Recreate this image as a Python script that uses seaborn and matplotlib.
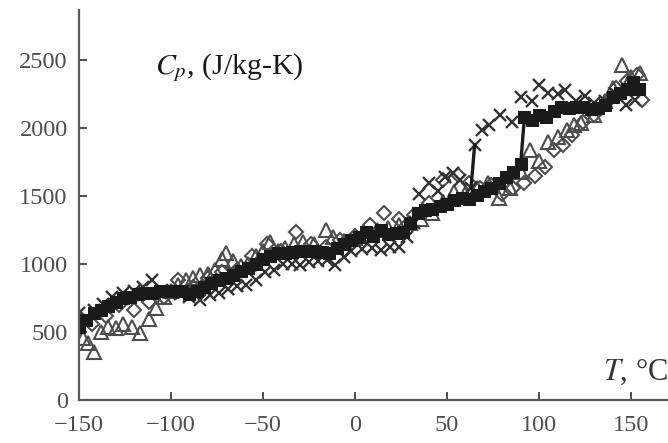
import matplotlib
matplotlib.use("Agg")
import matplotlib.pyplot as plt
import seaborn as sns

# Specific heat measurements, four specimens
sq_T = [-150, -146, -142, -138, -134, -130, -126, -122, -118, -114, -110, -106, -102, -98, -94, -90,
        -86, -82, -78, -74, -70, -66, -62, -58, -54, -50, -46, -42, -38, -34, -30, -26, -22, -18,
        -14, -10, -6, -2, 2, 6, 10, 14, 18, 22, 26, 30, 34, 38, 42, 46, 50, 54, 58, 62, 66, 70,
        74, 78, 82, 86, 90, 92, 96, 100, 104, 108, 112, 116, 120, 124, 128, 132, 136, 140, 144,
        148, 151, 154]
sq_Cp = [540, 590, 640, 660, 690, 720, 750, 760, 780, 790, 790, 800, 800, 800, 800, 780,
         800, 830, 860, 880, 900, 920, 950, 970, 1000, 1040, 1060, 1080, 1080, 1090, 1100, 1100, 1100, 1090,
         1080, 1120, 1150, 1180, 1200, 1240, 1210, 1250, 1220, 1230, 1240, 1300, 1380, 1400, 1410, 1430, 1440, 1470, 1490, 1480, 1510, 1540,
         1560, 1600, 1640, 1680, 1740, 2080, 2060, 2100, 2080, 2130, 2160, 2150, 2160, 2160, 2140, 2150, 2170, 2230, 2260,
         2290, 2340, 2290]

x_T = [-150, -146, -142, -137, -132, -126, -120, -115, -110, -105, -100, -95, -90, -84, -79, -74,
       -69, -64, -59, -54, -49, -44, -39, -34, -30, -25, -20, -15, -11, -6, -2, 4, 9, 14, 19, 24,
       28, 32, 35, 40, 45, 49, 53, 57, 63, 65, 69, 73, 79, 85, 90, 96, 100, 105, 110, 114,
       120, 125, 130, 136, 142, 147, 152]
x_Cp = [640, 590, 660, 710, 760, 790, 800, 830, 880, 810, 790, 780, 760, 735, 770, 790,
        820, 840, 845, 880, 940, 960, 1000, 1005, 993, 1015, 1020, 1030, 993, 1050, 1100, 1115, 1120, 1103, 1130, 1125,
        1200, 1300, 1520, 1595, 1540, 1640, 1669, 1620, 1560, 1880, 1985, 2022, 2096, 2044, 2228, 2200, 2316, 2257, 2250, 2279,
        2200, 2240, 2190, 2200, 2250, 2169, 2210]

tri_T = [-148, -145, -142, -138, -134, -130, -126, -121, -117, -112, -108, -104, -100, -96, -92, -88,
         -84, -80, -76, -72, -70, -66, -62, -58, -54, -50, -46, -42, -38, -33, -28, -22, -16, -12,
         -6, 0, 6, 12, 18, 24, 30, 36, 42, 48, 54, 60, 66, 72, 78, 84, 90, 95, 100, 105, 110, 115,
         119, 123, 130, 136, 140, 145, 150, 155]
tri_Cp = [460, 420, 353, 500, 540, 530, 560, 540, 493, 600, 680, 760, 800, 850, 880, 900,
          920, 930, 960, 1040, 1080, 1020, 990, 1000, 1060, 1100, 1165, 1100, 1120, 1150, 1160, 1150, 1250, 1200,
          1170, 1190, 1220, 1250, 1270, 1290, 1300, 1330, 1380, 1460, 1530, 1520, 1560, 1600, 1490, 1560, 1680, 1838, 1760, 1900, 1934, 1990,
          2022, 2040, 2100, 2200, 2300, 2463, 2380, 2404]

dia_T = [-150, -143, -135, -128, -120, -112, -104, -96, -88, -80, -72, -64, -56, -48, -40, -32,
         -24, -16, -8, 0, 8, 16, 24, 32, 40, 48, 56, 62, 68, 74, 80, 86, 92, 98, 103, 108, 113,
         118, 124, 130, 136, 142, 148, 153, 156]
dia_Cp = [610, 560, 620, 700, 660, 720, 760, 880, 830, 900, 940, 960, 1060, 1150, 1100, 1235,
          1150, 1130, 1180, 1210, 1290, 1375, 1330, 1360, 1450, 1620, 1660, 1600, 1560, 1580, 1520, 1560, 1600, 1650, 1713, 1838, 1880,
          1950, 2050, 2100, 2180, 2300, 2350, 2390, 2206]

# T value just before the crossed series jumps upward
x_jump_T = 63

sns.set_theme(style="ticks")
plt.rcParams["font.family"] = ["Liberation Serif", "DejaVu Serif"]
plt.rcParams["mathtext.fontset"] = "stix"

fig = plt.figure(figsize=(6.68, 4.43), dpi=100)
ax = fig.add_axes([0.118, 0.097, 0.882, 0.88])

gray = "0.3"
sns.lineplot(x=dia_T, y=dia_Cp, ax=ax, marker="D", linestyle="", ms=7.5, mfc="none",
             mec=gray, mew=1.5, sort=False, estimator=None, color=gray)
sns.lineplot(x=tri_T, y=tri_Cp, ax=ax, marker="^", linestyle="", ms=9.5, mfc="none",
             mec=gray, mew=1.5, sort=False, estimator=None, color=gray)
sns.lineplot(x=x_T, y=x_Cp, ax=ax, marker="x", linestyle="", ms=9, mec="0.2",
             mew=1.7, sort=False, estimator=None, color="0.2")
# jump segment of the crossed series
j = x_T.index(x_jump_T)
sns.lineplot(x=x_T[j:j + 2], y=x_Cp[j:j + 2], ax=ax, color="k", lw=2.4,
             sort=False, estimator=None)
sns.lineplot(x=sq_T, y=sq_Cp, ax=ax, marker="s", ms=8, color="k", mec="k", lw=2.4,
             sort=False, estimator=None)

ax.set_xlim(-150, 170)
ax.set_ylim(0, 2870)
ax.set_xticks([-150, -100, -50, 0, 50, 100, 150])
ax.set_xticklabels(["\u2212150", "\u2212100", "\u221250", "0", "50", "100", "150"])
ax.set_yticks([0, 500, 1000, 1500, 2000, 2500])
ax.tick_params(direction="in", length=6, width=1.4, color="0.3", labelsize=17.5,
               labelcolor="0.3")
ax.tick_params(axis="y", pad=8)
ax.tick_params(axis="x", pad=11)
for side in ["top", "right"]:
    ax.spines[side].set_visible(False)
for side in ["left", "bottom"]:
    ax.spines[side].set_color("0.35")
    ax.spines[side].set_linewidth(1.6)
ax.set_xlabel("")
ax.set_ylabel("")

ax.text(0.13, 0.852, "$C_p$, (J/kg-K)", transform=ax.transAxes, fontsize=21.5,
        ha="left", va="center", color="k")
ax.text(1.0, 0.072, "$T$, \u00b0C", transform=ax.transAxes, fontsize=22,
        ha="right", va="center", color="0.2")

fig.savefig("out.png", dpi=100)
